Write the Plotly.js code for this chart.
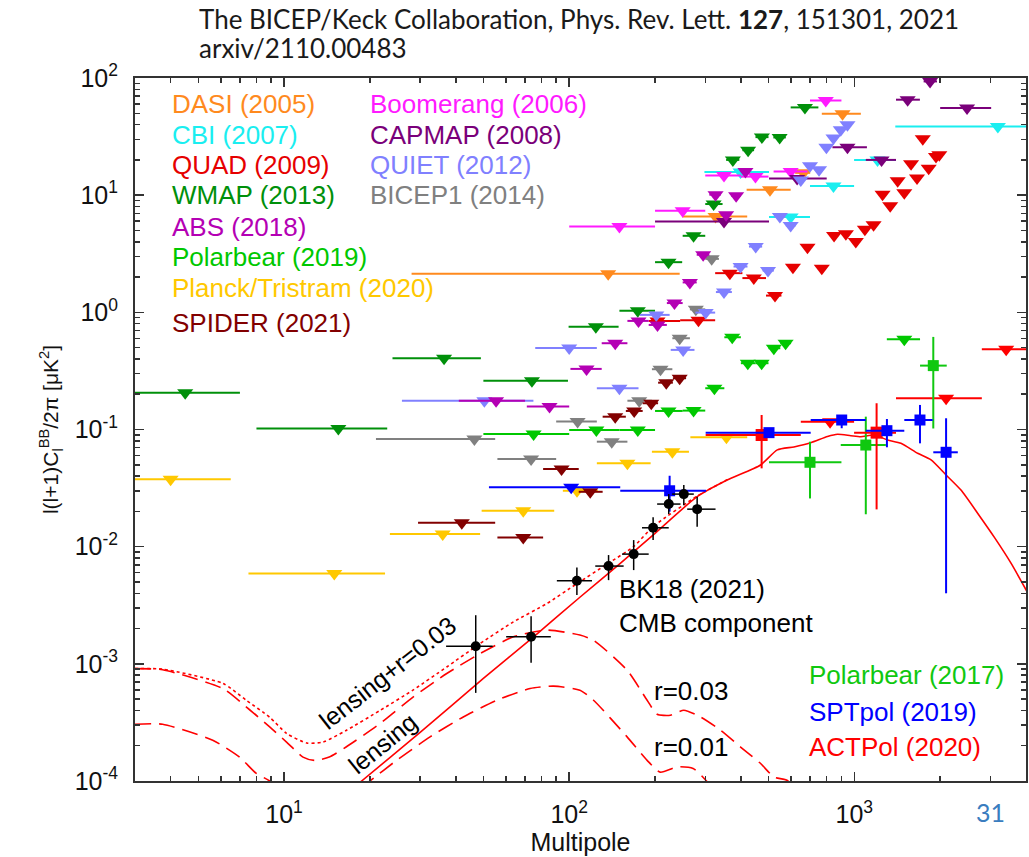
<!DOCTYPE html>
<html>
<head>
<meta charset="utf-8">
<script src="https://cdn.plot.ly/plotly-3.0.1.min.js"></script>
<style>html,body{margin:0;padding:0;background:#fff;}#chart{width:1029px;height:857px;}</style>
</head>
<body>
<div id="chart"></div>
<script>
// ---------------- DATA (multipole l, bin edges, D_l^BB in uK^2) ----------------
const dasi_l  = [137, 326, 506, 663, 909];
const dasi_lo = [28, 249, 419, 620, 769];
const dasi_hi = [244, 421, 598, 700, 1054];
const dasi_v  = [2.13, 6.57, 11.1, 15.5, 49.6];

const cbi_l  = [399, 598, 845, 1206, 3187];
const cbi_lo = [298, 502, 699, 998, 1392];
const cbi_hi = [502, 699, 998, 1400, 4500];
const cbi_v  = [15.8, 6.5, 12.0, 20.0, 38.6];

const quad_l  = [204, 284, 366, 444, 527, 609, 685, 769, 849, 934, 1012, 1089, 1168, 1256, 1336, 1419, 1497, 1581, 1659, 1738, 1823, 1934, 1986];
const quad_lo = [190, 245, 325, 405, 490, 590, 665, 745, 825, 910, 985, 1060, 1140, 1225, 1305, 1385, 1465, 1545, 1625, 1700, 1785, 1895, 1950];
const quad_hi = [245, 325, 405, 490, 555, 630, 705, 795, 875, 960, 1040, 1120, 1200, 1290, 1370, 1455, 1530, 1620, 1695, 1780, 1865, 1975, 2025];
const quad_v  = [0.845, 0.855, 2.16, 1.96, 1.39, 2.43, 3.60, 2.38, 4.52, 4.68, 4.02, 5.13, 5.58, 10.2, 8.11, 13.3, 10.5, 18.5, 14.0, 30.3, 17.0, 21.4, 22.1];

const wmap_l  = [4.5, 15.5, 36.4, 74, 124, 174, 223, 273, 321, 375, 424, 474, 547, 671];
const wmap_lo = [2, 8, 24, 50, 99.5, 150, 200, 250, 300, 355, 405, 450, 520, 598];
const wmap_hi = [7, 23, 49, 99, 149, 200, 249, 300, 345, 395, 445, 500, 575, 748];
const wmap_v  = [0.206, 0.102, 0.406, 0.261, 0.755, 1.03, 2.68, 4.50, 8.4, 20.0, 24.2, 31.3, 31.1, 56.1];

const abs_l  = [55.4, 85.3, 115, 145, 175, 204, 234, 265, 295, 326, 355, 385, 415];
const abs_lo = [41, 71, 101, 130, 160, 190, 220, 250, 280, 310, 340, 370, 400];
const abs_hi = [70, 100, 130, 160, 190, 220, 250, 280, 310, 340, 370, 400, 430];
const abs_v  = [0.176, 0.157, 0.329, 0.545, 0.845, 0.781, 1.20, 1.80, 3.10, 10.1, 6.79, 9.9, 15.9];

const pb19_l  = [75, 124.5, 174, 223, 273, 323, 373, 423, 473, 522, 574, 1497];
const pb19_lo = [50, 100, 150, 200, 250, 300, 350, 400, 450, 500, 550, 1300];
const pb19_hi = [100, 150, 200, 250, 300, 350, 400, 450, 500, 550, 600, 1700];
const pb19_v  = [0.0916, 0.099, 0.099, 0.144, 0.145, 0.225, 0.613, 0.368, 0.368, 0.494, 0.545, 0.590];

const planck_l  = [4, 15, 36, 69, 106.5, 160, 230, 356];
const planck_lo = [2, 7.5, 23.5, 49.3, 95, 125, 195, 266];
const planck_hi = [6.5, 22.6, 48.7, 88.6, 126, 193, 263, 421];
const planck_v  = [0.0376, 0.0059, 0.0128, 0.0203, 0.030, 0.0514, 0.0646, 0.0858];

const spider_l  = [42, 69, 94, 118.5, 145, 169, 194, 219, 244];
const spider_lo = [29.5, 56, 81, 108, 131, 158, 181, 205, 231];
const spider_hi = [55, 81, 108, 131, 158, 181, 205, 231, 257];
const spider_v  = [0.016, 0.012, 0.046, 0.0294, 0.1286, 0.144, 0.1675, 0.251, 0.274];

const boom_l  = [150, 250, 349, 450, 598, 794];
const boom_lo = [100, 200, 300, 400, 521, 699];
const boom_hi = [200, 300, 400, 500, 685, 901];
const boom_v  = [5.4, 7.35, 14.7, 14.4, 15.9, 64.4];

const capmap_l  = [349, 630, 946, 1246, 1538, 1843, 2485];
const capmap_lo = [200, 502, 838, 1097, 1400, 1750, 2000];
const capmap_hi = [502, 800, 1107, 1400, 1698, 1950, 3019];
const capmap_v  = [5.96, 13.9, 25.7, 20.0, 65.3, 93.5, 55.4];

const quiet_l  = [50.4, 100, 150, 202, 251, 301, 349, 399, 451, 498, 548, 598, 649, 699, 752, 798, 845, 896, 946];
const quiet_lo = [25.9, 76, 125, 177, 227, 277, 327, 377, 427, 477, 525, 575, 625, 675, 727, 777, 825, 875, 925];
const quiet_hi = [74.9, 125, 175, 225, 275, 325, 372, 422, 475, 522, 572, 622, 672, 722, 775, 822, 870, 920, 970];
const quiet_v  = [0.176, 0.497, 0.225, 0.951, 0.478, 0.995, 1.49, 2.46, 3.64, 2.27, 6.57, 5.51, 13.5, 17.8, 16.5, 25.7, 30.7, 36.2, 39.9];

const bicep1_l  = [46.5, 73.5, 107, 141, 176, 209, 244, 278, 316];
const bicep1_lo = [21, 56, 90, 125, 160, 195, 230, 265, 300];
const bicep1_hi = [55, 90, 125, 160, 195, 230, 265, 300, 335];
const bicep1_v  = [0.083, 0.056, 0.117, 0.0787, 0.176, 0.327, 0.601, 1.06, 2.86];

// detections (squares)
const pb17_l   = [699, 1097, 1892];
const pb17_lo  = [502, 896, 1700];
const pb17_hi  = [901, 1290, 2109];
const pb17_v   = [0.0525, 0.0737, 0.351];
const pb17_vlo = [0.0258, 0.0189, 0.102];
const pb17_vhi = [0.0787, 0.1287, 0.617];

const spt_l   = [225, 502, 903, 1301, 1699, 2098];
const spt_lo  = [151, 301, 703, 1097, 1497, 1892];
const spt_hi  = [302, 703, 1097, 1497, 1883, 2306];
const spt_v   = [0.030, 0.094, 0.1205, 0.0977, 0.1205, 0.0639];
const spt_vlo = [0.0199, 0.088, 0.1025, 0.0705, 0.0762, 0.0040];
const spt_vhi = [0.0403, 0.101, 0.131, 0.123, 0.162, 0.1247];
const sptul_l = [101.6], sptul_lo = [52.3], sptul_hi = [151], sptul_v = [0.0321];

const act_l   = [473, 1197];
const act_lo  = [301, 998];
const act_hi  = [649, 1400];
const act_v   = [0.0897, 0.094];
const act_vlo = [0.0466, 0.0208];
const act_vhi = [0.133, 0.1675];
const actul_l = [822, 2098, 3408], actul_lo = [649, 1400, 2800], actul_hi = [998, 2800, 4200], actul_v = [0.1167, 0.185, 0.484];

const bk_l   = [47.0, 73.5, 106.4, 137.4, 168.3, 196.9, 223.4, 252.3, 281];
const bk_lo  = [37, 60.1, 90.5, 123.4, 153.2, 180, 203.4, 229.6, 259.3];
const bk_hi  = [53.9, 86.2, 120.2, 155.2, 190, 223.4, 245.6, 273.5, 326];
const bk_v   = [0.001415, 0.0017, 0.00511, 0.00683, 0.00864, 0.01449, 0.0231, 0.0281, 0.0209];
const bk_vlo = [0.000565, 0.00102, 0.00386, 0.00518, 0.00631, 0.01138, 0.019, 0.0226, 0.0148];
const bk_vhi = [0.0026, 0.00255, 0.00665, 0.00848, 0.01138, 0.0178, 0.0281, 0.0336, 0.0267];

// model curves
const lens_l = [15, 18.7, 30, 50, 75, 109, 150, 200, 281, 358, 469, 537, 614, 703, 805, 873, 972, 1054, 1174, 1308, 1457, 1667, 1858, 2098, 2366, 2710, 3099, 3548, 4064];
const lens_v = [6.5e-5, 1.0e-4, 2.6e-4, 7.5e-4, 1.7e-3, 3.7e-3, 7.1e-3, 1.3e-2, 2.67e-2, 3.7e-2, 4.98e-2, 6.7e-2, 7.1e-2, 7.7e-2, 8.7e-2, 9.1e-2, 8.85e-2, 8.67e-2, 8.97e-2, 8.14e-2, 7.63e-2, 6.27e-2, 5.5e-2, 4.09e-2, 3.04e-2, 1.92e-2, 1.2e-2, 7.2e-3, 4.0e-3];

const lensr_l = [3, 3.75, 6.1, 7.36, 8.9, 10.2, 12.0, 13.7, 16.5, 21.7, 28.4, 37.2, 48.7, 63.7, 83.5, 106, 137, 168, 198, 281, 358];
const lensr_v = [9.1e-4, 9.0e-4, 6.8e-4, 4.9e-4, 3.5e-4, 2.55e-4, 2.11e-4, 2.15e-4, 2.7e-4, 4.0e-4, 6.0e-4, 9.4e-4, 1.49e-3, 2.28e-3, 3.27e-3, 4.8e-3, 7.2e-3, 1.0e-2, 1.5e-2, 2.7e-2, 3.72e-2];

const r03_l = [3, 3.75, 6.1, 7.36, 8.9, 10.2, 11.65, 12.8, 14.4, 16.5, 21.7, 28.4, 37.2, 48.7, 63.7, 83.5, 109, 121.7, 159.6, 187.6, 203.4, 226.4, 252.3, 288.7, 339.6, 399, 469, 522.6, 582, 650];
const r03_v = [9.1e-4, 8.9e-4, 6.15e-4, 4.3e-4, 2.9e-4, 2.15e-4, 1.6e-4, 1.5e-4, 1.6e-4, 1.95e-4, 3.09e-4, 5.22e-4, 8.27e-4, 1.225e-3, 1.7e-3, 1.94e-3, 1.76e-3, 1.59e-3, 8.83e-4, 4.89e-4, 3.71e-4, 3.64e-4, 4.02e-4, 3.52e-4, 2.71e-4, 1.95e-4, 1.41e-4, 1.08e-4, 1.01e-4, 7e-5];

const r01_l = [3, 3.75, 5.62, 6.98, 7.99, 8.9, 10.5, 12.5, 16, 20, 24.8, 32.5, 42.5, 55.7, 72.9, 88.1, 109, 121.7, 159.6, 187.6, 208.5, 239.4, 272, 303, 340];
const r01_v = [3.05e-4, 3.05e-4, 2.23e-4, 1.6e-4, 1.16e-4, 1.0e-4, 6.5e-5, 5e-5, 6.5e-5, 1.0e-4, 1.5e-4, 2.38e-4, 3.52e-4, 4.89e-4, 6.16e-4, 6.45e-4, 5.96e-4, 4.89e-4, 2.38e-4, 1.5e-4, 1.19e-4, 1.32e-4, 1.28e-4, 1.0e-4, 7e-5];

// tick labels
const xTickVals = [10, 100, 1000];
const xTickText = ['10<sup>1</sup>', '10<sup>2</sup>', '10<sup>3</sup>'];
const yTickVals = [1e-4, 1e-3, 1e-2, 1e-1, 1, 10, 100];
const yTickText = ['10<sup>-4</sup>', '10<sup>-3</sup>', '10<sup>-2</sup>', '10<sup>-1</sup>', '10<sup>0</sup>', '10<sup>1</sup>', '10<sup>2</sup>'];

// legend labels and other texts
const legend1 = ['DASI (2005)', 'CBI (2007)', 'QUAD (2009)', 'WMAP (2013)', 'ABS (2018)', 'Polarbear (2019)', 'Planck/Tristram (2020)', 'SPIDER (2021)'];
const legend2 = ['Boomerang (2006)', 'CAPMAP (2008)', 'QUIET (2012)', 'BICEP1 (2014)'];
const legend3 = ['Polarbear (2017)', 'SPTpol (2019)', 'ACTPol (2020)'];
const titleLines = ['The BICEP/Keck Collaboration, Phys. Rev. Lett. <b>127</b>, 151301, 2021', 'arxiv/2110.00483'];

// ---------------- STYLE ----------------
const C = {
  dasi: '#ff8a1e', cbi: '#1aeef0', quad: '#e60000', wmap: '#00900a', abs: '#b400b4',
  pb19: '#00c800', planck: '#ffc800', spider: '#820000', boom: '#ff1aff', capmap: '#7a007a',
  quiet: '#8080ff', bicep1: '#808080', pb17: '#10c810', spt: '#0000ff', act: '#ff0000'
};
const legend1Colors = [C.dasi, C.cbi, C.quad, C.wmap, C.abs, C.pb19, C.planck, C.spider];
const legend2Colors = [C.boom, C.capmap, C.quiet, C.bicep1];
const legend3Colors = [C.pb17, C.spt, C.act];

function errX(x, lo, hi, color, th) {
  return {type: 'data', symmetric: false,
    array: hi.map((h, i) => h - x[i]), arrayminus: lo.map((a, i) => x[i] - a),
    color: color, thickness: th || 2, width: 0};
}
function errY(v, lo, hi, color, th) {
  return {type: 'data', symmetric: false,
    array: hi.map((h, i) => h - v[i]), arrayminus: lo.map((a, i) => v[i] - a),
    color: color, thickness: th || 2, width: 0};
}
function ul(name, l, lo, hi, v, color) {
  return {type: 'scatter', mode: 'markers', name: name, x: l, y: v,
    marker: {symbol: 'triangle-down', size: 14, color: color, line: {width: 0}},
    error_x: errX(l, lo, hi, color, 2), showlegend: false, hoverinfo: 'skip'};
}
function det(name, l, lo, hi, v, vlo, vhi, color, sym, size, th) {
  return {type: 'scatter', mode: 'markers', name: name, x: l, y: v,
    marker: {symbol: sym, size: size, color: color, line: {width: 0}},
    error_x: errX(l, lo, hi, color, th), error_y: errY(v, vlo, vhi, color, th),
    showlegend: false, hoverinfo: 'skip'};
}
function curve(name, l, v, dash) {
  return {type: 'scatter', mode: 'lines', name: name, x: l, y: v,
    line: {color: '#ff0000', width: 1.6, dash: dash, shape: 'spline', smoothing: 0.6},
    showlegend: false, hoverinfo: 'skip'};
}

const traces = [
  curve('lensing', lens_l, lens_v, 'solid'),
  curve('lensing+r=0.03', lensr_l, lensr_v, 'dot'),
  curve('r=0.03', r03_l, r03_v, '16px,8px'),
  curve('r=0.01', r01_l, r01_v, '16px,8px'),
  ul('WMAP', wmap_l, wmap_lo, wmap_hi, wmap_v, C.wmap),
  ul('Planck/Tristram', planck_l, planck_lo, planck_hi, planck_v, C.planck),
  ul('DASI', dasi_l, dasi_lo, dasi_hi, dasi_v, C.dasi),
  ul('CBI', cbi_l, cbi_lo, cbi_hi, cbi_v, C.cbi),
  ul('Boomerang', boom_l, boom_lo, boom_hi, boom_v, C.boom),
  ul('CAPMAP', capmap_l, capmap_lo, capmap_hi, capmap_v, C.capmap),
  ul('QUAD', quad_l, quad_lo, quad_hi, quad_v, C.quad),
  ul('BICEP1', bicep1_l, bicep1_lo, bicep1_hi, bicep1_v, C.bicep1),
  ul('QUIET', quiet_l, quiet_lo, quiet_hi, quiet_v, C.quiet),
  ul('ABS', abs_l, abs_lo, abs_hi, abs_v, C.abs),
  ul('Polarbear 2019', pb19_l, pb19_lo, pb19_hi, pb19_v, C.pb19),
  ul('SPIDER', spider_l, spider_lo, spider_hi, spider_v, C.spider),
  ul('SPTpol UL', sptul_l, sptul_lo, sptul_hi, sptul_v, C.spt),
  ul('ACTPol UL', actul_l, actul_lo, actul_hi, actul_v, C.act),
  det('Polarbear 2017', pb17_l, pb17_lo, pb17_hi, pb17_v, pb17_vlo, pb17_vhi, C.pb17, 'square', 11, 2),
  det('ACTPol', act_l, act_lo, act_hi, act_v, act_vlo, act_vhi, C.act, 'square', 12, 2),
  det('SPTpol', spt_l, spt_lo, spt_hi, spt_v, spt_vlo, spt_vhi, C.spt, 'square', 11, 2),
  det('BK18', bk_l, bk_lo, bk_hi, bk_v, bk_vlo, bk_vhi, '#000000', 'circle', 10, 1.5)
];

// ---------------- LAYOUT ----------------
const minorX = [], minorY = [];
for (let d = 0; d <= 3; d++) for (let k = 2; k <= 9; k++) { const t = k * Math.pow(10, d); if (t > 3 && t < 4000) minorX.push(t); }
for (let d = -4; d <= 1; d++) for (let k = 2; k <= 9; k++) minorY.push(k * Math.pow(10, d));

const FONT = 'Liberation Sans, Arial, Helvetica, sans-serif';
const TFONT = 'Lato, Open Sans, sans-serif';
const annotations = [];
const rowY = [0.9626, 0.9189, 0.8762, 0.8336, 0.7885, 0.7458, 0.7009, 0.6511];
legend1.forEach((t, i) => annotations.push({xref: 'paper', yref: 'paper', x: 0.039, y: rowY[i], xanchor: 'left', yanchor: 'middle', showarrow: false, text: t, font: {family: FONT, size: 26, color: legend1Colors[i]}}));
legend2.forEach((t, i) => annotations.push({xref: 'paper', yref: 'paper', x: 0.261, y: rowY[i], xanchor: 'left', yanchor: 'middle', showarrow: false, text: t, font: {family: FONT, size: 26, color: legend2Colors[i]}}));
const row3 = [0.1508, 0.0986, 0.0488];
legend3.forEach((t, i) => annotations.push({xref: 'paper', yref: 'paper', x: 0.7545, y: row3[i], xanchor: 'left', yanchor: 'middle', showarrow: false, text: t, font: {family: FONT, size: 26, color: legend3Colors[i]}}));
annotations.push({xref: 'paper', yref: 'paper', x: 0.5415, y: 0.2485, xanchor: 'left', yanchor: 'middle', align: 'left', showarrow: false, text: 'BK18 (2021)<br>CMB component', font: {family: FONT, size: 26, color: '#000'}});
annotations.push({xref: 'paper', yref: 'paper', x: 0.5805, y: 0.1280, xanchor: 'left', yanchor: 'middle', showarrow: false, text: 'r=0.03', font: {family: FONT, size: 26, color: '#000'}});
annotations.push({xref: 'paper', yref: 'paper', x: 0.5805, y: 0.0479, xanchor: 'left', yanchor: 'middle', showarrow: false, text: 'r=0.01', font: {family: FONT, size: 26, color: '#000'}});
annotations.push({xref: 'paper', yref: 'paper', x: 0.283, y: 0.1536, xanchor: 'center', yanchor: 'middle', showarrow: false, textangle: -38, text: 'lensing+r=0.03', font: {family: FONT, size: 25, color: '#000'}});
annotations.push({xref: 'paper', yref: 'paper', x: 0.2783, y: 0.0540, xanchor: 'center', yanchor: 'middle', showarrow: false, textangle: -39, text: 'lensing', font: {family: FONT, size: 25, color: '#000'}});
annotations.push({xref: 'paper', yref: 'paper', x: 0.9596, y: -0.0437, xanchor: 'center', yanchor: 'middle', showarrow: false, text: '31', font: {family: TFONT, size: 25, color: '#3a7dbf'}});
annotations.push({xref: 'paper', yref: 'paper', x: 0.0695, y: 1.0839, xanchor: 'left', yanchor: 'middle', showarrow: false, text: titleLines[0], font: {family: TFONT, size: 26, color: '#1a1a1a'}});
annotations.push({xref: 'paper', yref: 'paper', x: 0.0695, y: 1.0427, xanchor: 'left', yanchor: 'middle', showarrow: false, text: titleLines[1], font: {family: TFONT, size: 26, color: '#1a1a1a'}});

const axisCommon = {
  type: 'log', showgrid: false, zeroline: false, showline: true, linecolor: '#333', linewidth: 2,
  mirror: 'allticks', ticks: 'inside', ticklen: 9, tickwidth: 1.5, tickcolor: '#333',
  tickmode: 'array', tickfont: {family: FONT, size: 25, color: '#111'}, ticklabelstandoff: 10
};
const layout = {
  width: 1029, height: 857,
  margin: {l: 135, r: 3, t: 78, b: 76},
  paper_bgcolor: '#fff', plot_bgcolor: '#fff',
  xaxis: Object.assign({}, axisCommon, {
    range: [Math.log10(3), Math.log10(4000)], tickvals: xTickVals, ticktext: xTickText,
    minor: {tickmode: 'array', tickvals: minorX, ticks: 'inside', ticklen: 5, tickwidth: 1.5, tickcolor: '#333', showgrid: false},
    title: {text: 'Multipole', font: {family: FONT, size: 25, color: '#111'}, standoff: 2}
  }),
  yaxis: Object.assign({}, axisCommon, {
    range: [-4, 2], tickvals: yTickVals, ticktext: yTickText,
    minor: {tickmode: 'array', tickvals: minorY, ticks: 'inside', ticklen: 5, tickwidth: 1.5, tickcolor: '#333', showgrid: false},
    title: {text: 'l(l+1)C<sub>l</sub><sup>BB</sup>/2π [μK<sup>2</sup>]', font: {family: FONT, size: 21, color: '#111'}, standoff: 10}
  }),
  annotations: annotations,
  showlegend: false
};

Plotly.newPlot('chart', traces, layout, {displayModeBar: false, staticPlot: true});
</script>
</body>
</html>
